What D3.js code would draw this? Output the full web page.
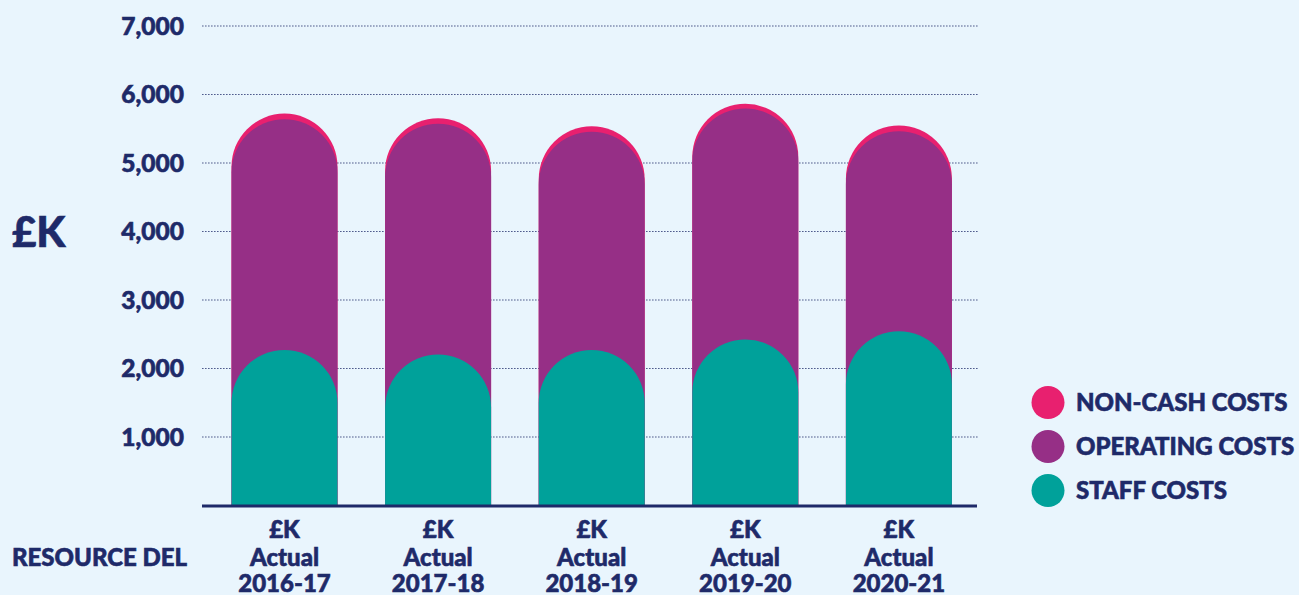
<!DOCTYPE html>
<html>
<head>
<meta charset="utf-8">
<script src="https://cdn.jsdelivr.net/npm/d3@7"></script>
<style>
html,body{margin:0;padding:0;background:#e9f5fd;}
svg{display:block;}
text{font-family:Lato,"Open Sans",sans-serif;font-weight:900;fill:#1e2a69;stroke:#1e2a69;stroke-width:0.6px;paint-order:stroke;}
</style>
</head>
<body>
<svg id="chart" width="1299" height="595"></svg>
<script>
// ---- data ----
const categories = ["2016-17","2017-18","2018-19","2019-20","2020-21"];
const staffCosts = [2270, 2205, 2270, 2425, 2545];
const operatingCosts = [3368, 3368, 3188, 3372, 2920];
const nonCashCosts = [83, 82, 78, 68, 83];
const seriesNames = ["NON-CASH COSTS","OPERATING COSTS","STAFF COSTS"];
const yTicks = [1000,2000,3000,4000,5000,6000,7000];

const colors = {"STAFF COSTS":"#00a19a","OPERATING COSTS":"#962f86","NON-CASH COSTS":"#e8206f"};
const navy = "#1e2a69";

const svg = d3.select("#chart");
const x = d3.scaleBand().domain(categories).range([207.7, 975.7]).paddingInner(0.31).paddingOuter(0.155);
const y = d3.scaleLinear().domain([0, 7000]).range([505.5, 26]);

// gridlines
svg.append("g").selectAll("line").data(yTicks).join("line")
  .attr("x1", 202).attr("x2", 978)
  .attr("y1", d => y(d)).attr("y2", d => y(d))
  .attr("stroke", navy).attr("stroke-width", 1.2)
  .attr("stroke-dasharray", "1.6,1.4").attr("opacity", 0.75);

// y tick labels
svg.append("g").selectAll("text").data(yTicks).join("text")
  .attr("x", 184).attr("y", d => y(d)).attr("dy", "0.36em")
  .attr("text-anchor", "end").attr("font-size", 24.5)
  .text(d => d3.format(",")(d));

// y axis title
svg.append("text").attr("x", 12).attr("y", 232).attr("dy", "0.36em")
  .attr("font-size", 42).text("£K");

// stacked rounded bars: draw each cumulative layer from back to front
const layers = [
  {name:"NON-CASH COSTS", vals: categories.map((c,i)=>staffCosts[i]+operatingCosts[i]+nonCashCosts[i])},
  {name:"OPERATING COSTS", vals: categories.map((c,i)=>staffCosts[i]+operatingCosts[i])},
  {name:"STAFF COSTS", vals: categories.map((c,i)=>staffCosts[i])}
];
function pillPath(x0, w, top, bottom){
  const r = w/2;
  const yStart = top + r;
  return `M${x0},${bottom}L${x0},${yStart}A${r},${r} 0 0 1 ${x0+w},${yStart}L${x0+w},${bottom}Z`;
}
layers.forEach(layer => {
  svg.append("g").selectAll("path").data(categories).join("path")
    .attr("d", (c,i) => pillPath(x(c), x.bandwidth(), y(layer.vals[i]), y(0)))
    .attr("fill", colors[layer.name]);
});

// baseline
svg.append("line").attr("x1", 202).attr("x2", 977).attr("y1", 506).attr("y2", 506)
  .attr("stroke", navy).attr("stroke-width", 3);

// x labels
const xl = svg.append("g").selectAll("text").data(categories).join("text")
  .attr("text-anchor", "middle").attr("font-size", 24);
xl.append("tspan").attr("x", c => x(c)+x.bandwidth()/2).attr("y", 538).text("£K");
xl.append("tspan").attr("x", c => x(c)+x.bandwidth()/2).attr("y", 566).text("Actual");
xl.append("tspan").attr("x", c => x(c)+x.bandwidth()/2).attr("y", 592).text(c => c);

svg.append("text").attr("x", 12).attr("y", 566).attr("font-size", 24).text("RESOURCE DEL");

// legend
const lg = svg.append("g").selectAll("g").data(seriesNames).join("g")
  .attr("transform", (d,i) => `translate(1048,${402.5 + i*44})`);
lg.append("circle").attr("r", 16.5).attr("fill", d => colors[d]).attr("stroke", "none");
lg.append("text").attr("x", 28).attr("dy", "0.36em").attr("font-size", 24).text(d => d);
</script>
</body>
</html>
